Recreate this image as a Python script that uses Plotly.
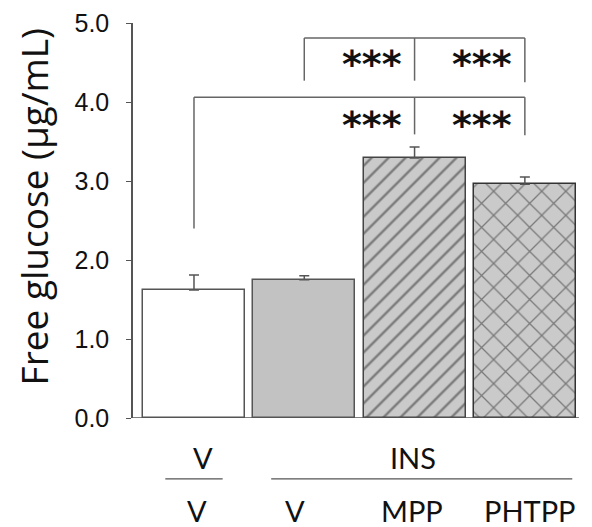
import plotly.graph_objects as go

# ---- data ----
groups = ["V/V", "INS/V", "INS/MPP", "INS/PHTPP"]
glucose = [1.62, 1.75, 3.29, 2.96]
sem = [0.19, 0.05, 0.14, 0.09]
top_labels = ["V", "INS"]
bottom_labels = ["V", "V", "MPP", "PHTPP"]
y_ticks = [0.0, 1.0, 2.0, 3.0, 4.0, 5.0]
y_ticklabels = ["0.0", "1.0", "2.0", "3.0", "4.0", "5.0"]
# significance brackets
brackets = [
    dict(xs=[0, 2, 3], y=4.06, drops=[2.40, 3.59, 3.58]),
    dict(xs=[1, 2, 3], y=4.81, drops=[4.27, 4.27, 4.25]),
]
stars = [(2, 3.71), (3, 3.71), (2, 4.48), (3, 4.48)]

xpos = list(range(len(groups)))
fills = ["white", "#c2c2c2", "#cacaca", "#cacaca"]
patterns = ["", "", "/", "x"]
line_cols = ["#555555", "#555555", "#444444", "#333333"]

fig = go.Figure()
for i in xpos:
    fig.add_trace(go.Bar(
        x=[xpos[i]], y=[glucose[i]], width=0.925,
        marker=dict(color=fills[i],
                    line=dict(color=line_cols[i], width=1.5),
                    pattern=dict(shape=patterns[i], fgcolor="#2a2a2a",
                                 bgcolor=fills[i],
                                 size=12 if patterns[i] == "/" else 17,
                                 solidity=0.2 if patterns[i] == "/" else 0.15)),
        error_y=dict(type="data", array=[sem[i]], arrayminus=[0],
                     symmetric=False, color="#555555", thickness=1.5, width=5),
        showlegend=False, hoverinfo="skip",
    ))

shapes = []
lc = dict(color="#666666", width=1.5)
for b in brackets:
    xs = b["xs"]
    shapes.append(dict(type="line", xref="x", yref="y", x0=xs[0], x1=xs[-1],
                       y0=b["y"], y1=b["y"], line=lc))
    for xv, d in zip(xs, b["drops"]):
        shapes.append(dict(type="line", xref="x", yref="y", x0=xv, x1=xv,
                           y0=b["y"], y1=d, line=lc))
shapes.append(dict(type="line", xref="x", yref="y", x0=-0.553, x1=3.49,
                   y0=0, y1=0, line=dict(color="#555555", width=1.5)))
shapes.append(dict(type="line", xref="x", yref="paper", x0=-0.26, x1=0.26,
                   y0=-0.154, y1=-0.154, line=dict(color="#555555", width=1.2)))
shapes.append(dict(type="line", xref="x", yref="paper", x0=0.7, x1=3.43,
                   y0=-0.154, y1=-0.154, line=dict(color="#555555", width=1.2)))

ann = []
for xv, yv in stars:
    ann.append(dict(x=xv - 0.1, y=yv, xref="x", yref="y", text="<b>***</b>",
                    showarrow=False, xanchor="right", yanchor="middle",
                    font=dict(family="DejaVu Sans", size=38, color="#111111")))
lab_font = dict(family="Lato", size=29, color="#111111")
ann.append(dict(x=0.08, y=-0.101, xref="x", yref="paper", text=top_labels[0],
                showarrow=False, yanchor="middle", font=lab_font))
ann.append(dict(x=1.99, y=-0.101, xref="x", yref="paper", text=top_labels[1],
                showarrow=False, yanchor="middle", font=lab_font))
for i, t in enumerate(bottom_labels):
    ann.append(dict(x=[0.03, -0.08, -0.02, 0.05][i] + i, y=-0.233, xref="x",
                    yref="paper", text=t, showarrow=False, yanchor="middle",
                    font=lab_font))
ann.append(dict(x=-0.222, y=0.535, xref="paper", yref="paper",
                text="Free glucose (μg/mL)", textangle=-90, showarrow=False,
                xanchor="center", yanchor="middle",
                font=dict(family="Open Sans", size=37, color="#111111")))

# page body has an 8px margin: shift the figure origin accordingly
fig.update_layout(
    width=584, height=519,
    margin=dict(l=125, r=12, t=15, b=109, autoexpand=False),
    plot_bgcolor="white", paper_bgcolor="white",
    bargap=0,
    xaxis=dict(range=[-0.553, 3.5], showticklabels=False, showgrid=False,
               zeroline=False, showline=False, ticks="", automargin=False),
    yaxis=dict(range=[0, 5], tickvals=y_ticks, ticktext=y_ticklabels,
               showgrid=False, zeroline=False, showline=True, automargin=False,
               linecolor="#555555", linewidth=1.5, ticks="outside",
               ticklen=5, tickcolor="#555555", ticklabelstandoff=12,
               ticklabeloverflow="allow",
               tickfont=dict(family="Liberation Sans", size=25, color="#111111")),
    shapes=shapes, annotations=ann,
)
fig.write_html("out.html")
